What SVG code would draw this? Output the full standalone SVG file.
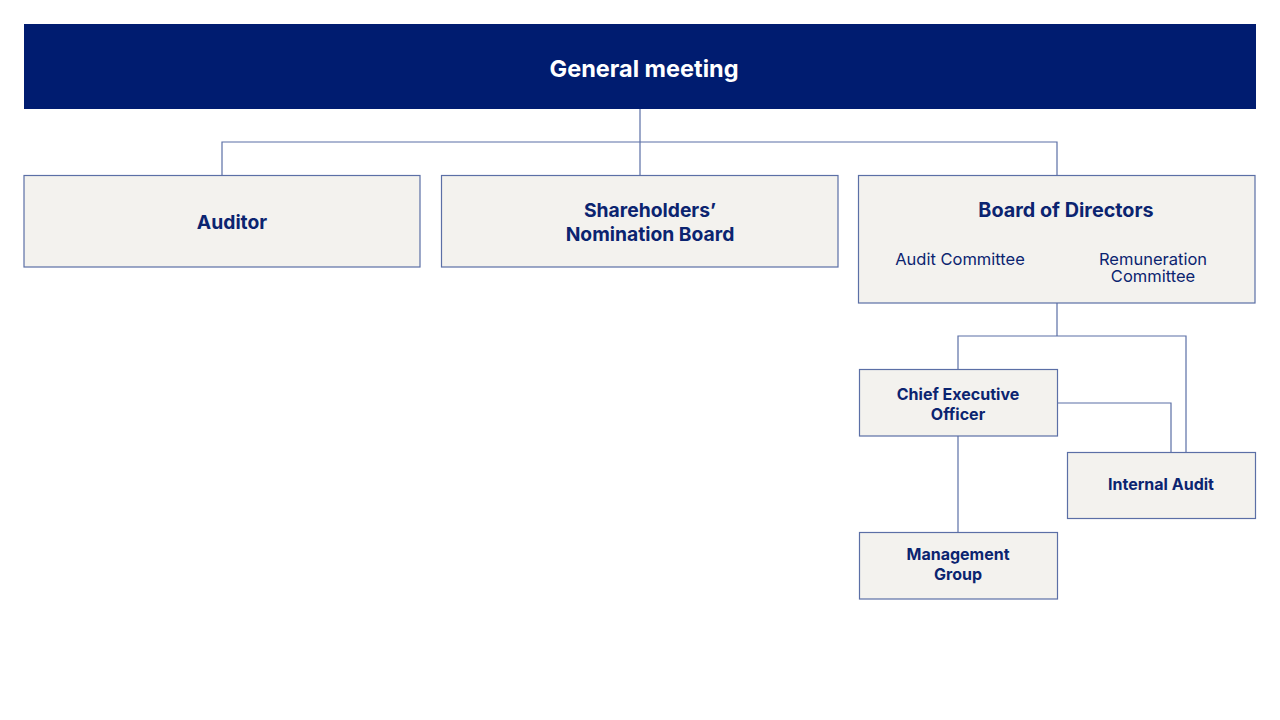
<svg xmlns="http://www.w3.org/2000/svg" width="1280" height="720" viewBox="0 0 1280 720">
<style>
.box{fill:#f3f2ee;stroke:#5b6fa6;stroke-width:1.2}
.c{fill:none;stroke:#5b6fa6;stroke-width:1.2}
text{font-family:Inter,"Liberation Sans",sans-serif;fill:#0b2470;text-anchor:middle;dominant-baseline:central}
.b{font-weight:700}
.t18{font-size:19.3px}
.t16{font-size:16px}
.r{font-weight:400;font-size:16.5px}
</style>
<rect width="1280" height="720" fill="#ffffff"/>
<g id="connectors">
<path class="c" d="M640 109V175M222 175V142H1057V175"/>
<path class="c" d="M1057 303V336M958 369V336H1186V452"/>
<path class="c" d="M1057 403H1171V452"/>
<path class="c" d="M958 436V532"/>
</g>
<g id="general-meeting">
<rect x="24" y="24" width="1232" height="85" fill="#001c70"/>
<text x="644" y="68" class="b" font-size="23.5" style="fill:#ffffff">General meeting</text>
</g>
<g id="auditor">
<rect class="box" x="24" y="175.5" width="396" height="91.5"/>
<text x="232" y="222" class="b t18">Auditor</text>
</g>
<g id="nomination-board">
<rect class="box" x="441.5" y="175.5" width="396.5" height="91.5"/>
<text x="650" y="210" class="b t18">Shareholders’</text>
<text x="650" y="234" class="b t18">Nomination Board</text>
</g>
<g id="board">
<rect class="box" x="858.5" y="175.5" width="396.5" height="127.5"/>
<text x="1066" y="210" class="b" font-size="19.8">Board of Directors</text>
<text x="960" y="259" class="r" font-size="17.5">Audit Committee</text>
<text x="1153" y="258.5" class="r" font-size="15.8">Remuneration</text>
<text x="1153" y="276" class="r" font-size="15.8">Committee</text>
</g>
<g id="ceo">
<rect class="box" x="859.5" y="369.5" width="198" height="66.5"/>
<text x="958" y="394" class="b t16">Chief Executive</text>
<text x="958" y="414" class="b t16">Officer</text>
</g>
<g id="internal-audit">
<rect class="box" x="1067.5" y="452.5" width="188" height="66"/>
<text x="1161" y="484" class="b t16">Internal Audit</text>
</g>
<g id="management">
<rect class="box" x="859.5" y="532.5" width="198" height="66.5"/>
<text x="958" y="554" class="b t16">Management</text>
<text x="958" y="574" class="b t16">Group</text>
</g>
</svg>
